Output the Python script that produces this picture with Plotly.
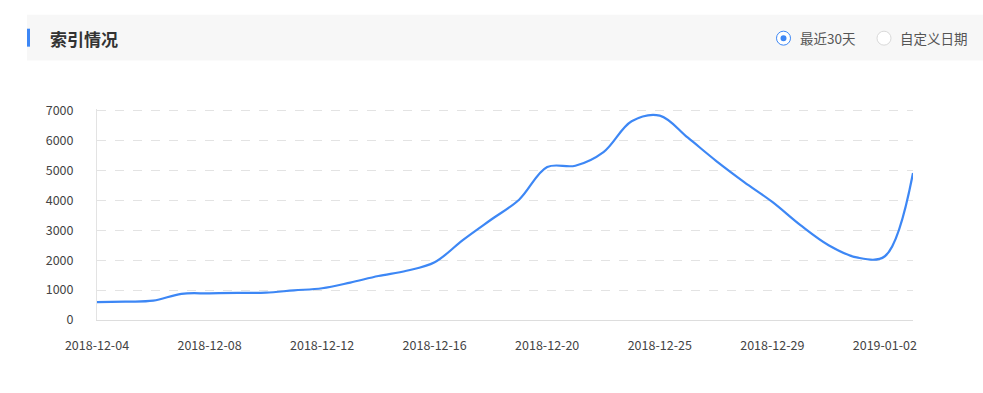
import plotly.graph_objects as go

dates = ["2018-12-04", "2018-12-05", "2018-12-06", "2018-12-07", "2018-12-08",
         "2018-12-09", "2018-12-10", "2018-12-11", "2018-12-12", "2018-12-13",
         "2018-12-14", "2018-12-15", "2018-12-16", "2018-12-17", "2018-12-18",
         "2018-12-19", "2018-12-20", "2018-12-21", "2018-12-23", "2018-12-24",
         "2018-12-25", "2018-12-26", "2018-12-27", "2018-12-28", "2018-12-29",
         "2018-12-30", "2018-12-31", "2019-01-01", "2019-01-02", "2019-01-03"]
values = [595, 615, 645, 875, 890, 905, 915, 990, 1060, 1250,
          1470, 1645, 1930, 2670, 3350, 4020, 5110, 5155, 5610, 6640,
          6830, 6090, 5320, 4610, 3945, 3170, 2500, 2090, 2130, 4910]
tick_labels = ["2018-12-04", "2018-12-08", "2018-12-12", "2018-12-16",
               "2018-12-20", "2018-12-25", "2018-12-29", "2019-01-02"]
y_ticks = [0, 1000, 2000, 3000, 4000, 5000, 6000, 7000]

W, H = 983, 393
L, R, T, B = 97, 913, 110, 320
YMAX = 7050
FONT = "Noto Sans CJK SC"
T_EFF = B - (B - T) * YMAX / 7000.0


def px(x):
    return (x - L) / (R - L)


def py(y):
    return (B - y) / (B - T_EFF)


fig = go.Figure()
fig.add_trace(go.Scatter(
    x=dates, y=values, mode="lines",
    line=dict(color="#3d87f5", width=2.2, shape="spline", smoothing=1.0),
    hoverinfo="x+y", showlegend=False,
))

shapes = [
    dict(type="rect", xref="paper", yref="paper", x0=px(27), x1=px(983), y0=py(60), y1=py(14),
         fillcolor="#f7f7f7", line=dict(width=0), layer="below"),
    dict(type="rect", xref="paper", yref="paper", x0=px(27), x1=px(30), y0=py(46), y1=py(28),
         fillcolor="#3d87f5", line=dict(width=0)),
    dict(type="circle", xref="paper", yref="paper", x0=px(776.5), x1=px(790.5), y0=py(44.5), y1=py(30.5),
         fillcolor="white", line=dict(color="#3d87f5", width=1)),
    dict(type="circle", xref="paper", yref="paper", x0=px(780.5), x1=px(786.5), y0=py(40.5), y1=py(34.5),
         fillcolor="#3d87f5", line=dict(width=0)),
    dict(type="circle", xref="paper", yref="paper", x0=px(877), x1=px(891), y0=py(44.5), y1=py(30.5),
         fillcolor="white", line=dict(color="#d9d9d9", width=1)),
]

annotations = [
    dict(text="<b>索引情况</b>", xref="paper", yref="paper", x=px(48), y=py(38),
         xanchor="left", yanchor="middle", showarrow=False,
         font=dict(family=FONT, size=17, color="#333333")),
    dict(text="最近30天", xref="paper", yref="paper", x=px(798), y=py(37.5),
         xanchor="left", yanchor="middle", showarrow=False,
         font=dict(family=FONT, size=13.5, color="#555555")),
    dict(text="自定义日期", xref="paper", yref="paper", x=px(898), y=py(37.5),
         xanchor="left", yanchor="middle", showarrow=False,
         font=dict(family=FONT, size=13.5, color="#555555")),
]

fig.update_layout(
    width=W, height=H,
    margin=dict(l=L, r=W - R, t=T_EFF, b=H - B, pad=0),
    paper_bgcolor="white", plot_bgcolor="white",
    shapes=shapes, annotations=annotations,
    font=dict(family=FONT, size=12, color="#444444"),
    xaxis=dict(
        type="category", range=[0, len(dates) - 1],
        tickmode="array", tickvals=tick_labels, ticktext=tick_labels,
        showgrid=False, zeroline=False,
        showline=True, linecolor="#dddddd", linewidth=1,
        ticks="", ticklabelstandoff=14,
        tickfont=dict(family=FONT, size=12.5, color="#444444"),
        fixedrange=True,
    ),
    yaxis=dict(
        range=[0, YMAX], tickmode="array", tickvals=y_ticks,
        showgrid=True, gridcolor="#e3e3e3", griddash="dash", gridwidth=1,
        zeroline=False,
        showline=True, linecolor="#e3e3e3", linewidth=1,
        ticks="", ticklabelstandoff=20,
        tickfont=dict(family=FONT, size=12.5, color="#444444"),
        fixedrange=True,
    ),
)

fig.write_html("out.html")
